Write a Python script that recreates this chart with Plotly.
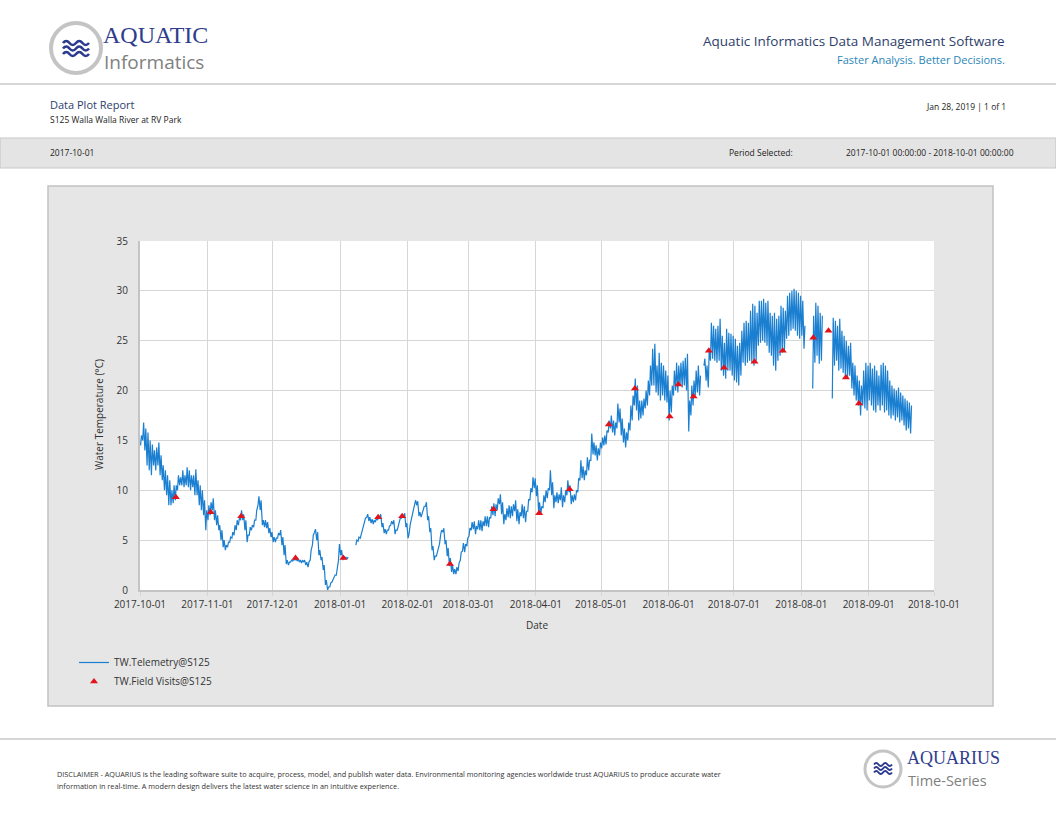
import plotly.graph_objects as go
import pandas as pd

# daily low / high water temperature (degC) at S125, one entry per day from 2017-10-01
# None = no telemetry that day
temp_low = [
    14.5, 15.0, 14.0, 12.5, 12.0, 11.5, 12.5, 12.0, 12.5, 11.5,
    11.0, 10.0, 9.5, 8.5, 8.5, 8.7, 9.0, 10.0, 10.5, 10.5,
    10.3, 10.5, 10.3, 10.0, 10.3, 9.5, 9.5, 8.5, 8.0, 7.5,
    6.0, 7.0, 7.5, 8.0, 7.0, 6.5, 6.0, 5.0, 4.3, 4.0,
    4.3, 4.8, 5.2, 5.5, 6.0, 6.5, 7.0, 7.0, 6.0, 4.8,
    5.5, 6.0, 6.3, 7.0, 8.5, 8.0, 6.5, 6.3, 6.2, 5.7,
    5.3, 4.8, 4.8, 5.2, 5.5, 4.5, 3.5, 2.6, 2.5, 2.8,
    2.9, 3.0, 2.9, 2.8, 2.7, 2.8, 2.5, 2.3, 3.0, 4.5,
    5.8, 5.0, 3.5, 3.0, 2.0, 0.5, 0.0, 0.3, 0.8, 1.2,
    1.5, 3.0, 3.5, 3.0, 3.1, 3.1, None, None, None, 4.5,
    4.9, 5.2, 6.0, 6.8, 7.3, 6.9, 6.7, 6.6, 6.8, 7.0,
    7.2, 6.3, 5.7, 5.6, 6.0, 6.5, 6.6, 5.6, 6.0, 6.8,
    7.2, 7.3, 6.3, 5.2, 6.6, 7.8, 8.7, 8.5, 7.4, 7.3,
    8.0, 8.4, 7.0, 5.8, 4.0, 3.0, 3.4, 4.2, 5.6, 5.8,
    4.6, 3.4, 2.4, 1.8, 1.6, 1.6, 1.9, 3.0, 3.9, 3.8,
    4.4, 5.4, 6.0, 6.1, 5.6, 6.1, 6.0, 5.9, 6.4, 6.4,
    6.3, 7.2, 7.5, 7.4, 8.0, 8.6, 7.6, 6.6, 7.0, 7.3,
    7.2, 7.4, 7.9, 6.9, 6.6, 7.4, 7.2, 6.8, 7.9, 9.0,
    9.8, 10.2, 9.4, 7.8, 7.6, 8.2, 8.8, 9.2, 10.0, 9.5,
    8.2, 8.8, 8.7, 9.0, 8.3, 8.8, 9.5, 9.8, 8.6, 8.8,
    9.0, 9.8, 11.0, 11.2, 11.0, 11.5, 12.0, 13.0, 13.6, 13.5,
    13.0, 13.5, 14.2, 14.5, 14.6, 15.8, 16.2, 15.8, 15.5, 16.2,
    16.8, 15.5, 14.8, 14.3, 15.0, 16.0, 17.0, 18.5, 18.0, 17.0,
    17.2, 17.5, 18.2, 18.5, 19.5, 20.5, 20.5, 19.8, 19.5, 19.0,
    19.5, 19.0, 18.8, 17.0, 17.8, 19.5, 20.0, 19.8, 20.5, 20.3,
    20.5, 20.0, 15.9, 17.5, 18.5, 19.5, 19.8, 19.5, None, 22.5,
    21.0, 20.3, 23.0, 23.2, 23.0, 22.8, 23.0, 22.0, 21.5, 21.2,
    22.0, 22.0, 21.5, 21.0, 20.8, 20.5, 21.5, 22.8, 22.5, 22.8,
    23.0, 22.8, 22.5, 23.0, 24.5, 24.8, 25.0, 24.8, 24.5, 23.8,
    23.5, 22.5, 22.0, 23.0, 23.5, 23.8, 24.0, 25.2, 25.5, 26.0,
    26.2, 26.0, 25.5, 25.2, 25.5, 24.2, None, None, None, 20.2,
    22.8, 23.5, 22.7, 23.0, None, None, None, None, 19.2, 22.5,
    23.0, 22.0, 22.2, 21.8, 21.5, 21.2, 21.5, 20.2, 19.5, 19.0,
    18.5, 17.5, 18.5, 18.2, 18.0, 19.0, 18.5, 18.0, 17.8, 18.5,
    18.0, 18.5, 17.8, 18.0, 17.5, 17.2, 17.5, 17.0, 17.3, 16.8,
    17.0, 16.5, 16.0, 16.2, 15.7,
]
temp_high = [
    15.5, 16.8, 16.2, 15.8, 15.0, 14.6, 14.0, 14.3, 14.8, 13.5,
    12.5, 12.0, 11.5, 11.0, 10.0, 10.5, 10.5, 11.5, 11.3, 12.0,
    11.5, 12.3, 12.0, 11.5, 11.5, 12.1, 11.0, 10.5, 10.0, 9.0,
    8.0, 8.5, 8.8, 9.2, 8.0, 7.5, 6.5, 6.0, 5.0, 4.5,
    4.8, 5.3, 5.8, 6.5, 7.0, 7.2, 8.0, 7.6, 7.0, 5.5,
    6.3, 6.5, 7.0, 8.0, 9.4, 9.0, 7.0, 7.0, 6.8, 6.2,
    5.8, 5.3, 5.2, 5.7, 6.0, 5.3, 4.5, 3.0, 2.8, 3.0,
    3.1, 3.2, 3.1, 3.0, 3.0, 3.0, 2.8, 2.8, 4.0, 5.5,
    6.1, 5.8, 4.0, 3.3, 2.5, 1.0, 0.3, 0.7, 1.0, 1.5,
    2.0, 4.6, 4.0, 3.3, 3.3, 3.3, None, None, None, 5.0,
    5.3, 5.6, 6.4, 7.2, 7.6, 7.3, 7.1, 7.0, 7.2, 7.4,
    7.6, 6.7, 6.1, 6.0, 6.4, 6.9, 7.0, 6.0, 6.4, 7.2,
    7.6, 7.7, 6.7, 5.6, 7.0, 8.2, 9.0, 8.9, 7.8, 7.7,
    8.4, 8.8, 7.4, 6.2, 4.4, 3.4, 3.8, 4.6, 6.0, 6.2,
    5.0, 4.2, 3.2, 2.5, 2.1, 2.3, 2.7, 3.8, 4.7, 4.6,
    5.2, 6.2, 6.8, 6.9, 6.4, 7.0, 7.0, 6.9, 7.4, 7.4,
    7.3, 8.4, 8.7, 8.6, 9.2, 9.6, 8.8, 7.6, 8.2, 8.5,
    8.4, 8.6, 9.0, 8.1, 7.8, 8.6, 8.4, 7.9, 9.1, 10.2,
    11.3, 11.2, 10.5, 8.8, 8.4, 9.5, 10.0, 10.2, 12.0, 10.8,
    9.5, 9.8, 9.6, 10.3, 9.5, 10.0, 11.0, 10.5, 9.5, 9.6,
    10.0, 11.2, 13.0, 12.4, 12.0, 13.3, 13.0, 15.7, 14.8, 14.5,
    14.2, 14.8, 15.3, 15.5, 16.0, 17.0, 17.5, 17.0, 16.8, 18.7,
    18.2, 17.2, 16.2, 15.8, 16.8, 18.5, 19.5, 21.2, 20.5, 19.0,
    19.0, 19.2, 20.0, 21.0, 22.5, 24.2, 24.7, 22.5, 23.8, 22.8,
    22.5, 22.0, 21.5, 20.0, 20.5, 22.0, 22.8, 22.5, 22.8, 23.0,
    23.3, 23.7, 19.0, 20.5, 21.0, 22.0, 22.5, 21.5, None, 23.2,
    22.5, 24.2, 26.8, 26.5, 26.2, 26.5, 27.2, 25.5, 24.8, 26.2,
    25.8, 25.7, 25.5, 25.2, 24.5, 24.8, 26.0, 26.8, 27.0, 26.8,
    28.0, 28.7, 28.5, 27.8, 29.0, 29.0, 29.2, 28.8, 29.0, 27.8,
    27.5, 27.8, 27.2, 27.5, 28.5, 28.3, 28.0, 29.5, 29.8, 30.0,
    30.2, 30.0, 29.8, 29.5, 29.0, 26.5, None, None, None, 27.5,
    28.8, 28.5, 27.8, 27.5, None, None, None, None, 27.3, 27.0,
    26.5, 27.2, 26.0, 25.5, 25.0, 24.5, 24.8, 22.8, 22.5, 21.5,
    21.0, 20.5, 22.0, 22.8, 22.5, 22.8, 22.2, 22.5, 22.0, 21.5,
    22.6, 22.8, 22.5, 22.0, 21.0, 20.5, 20.2, 20.0, 20.3, 19.8,
    19.5, 19.2, 19.0, 18.8, 18.5,
]

visit_dates = [
    "2017-10-17", "2017-11-02", "2017-11-16", "2017-12-11", "2018-01-02",
    "2018-01-18", "2018-01-29", "2018-02-20", "2018-03-12", "2018-04-02",
    "2018-04-16", "2018-05-04", "2018-05-16", "2018-06-01", "2018-06-05",
    "2018-06-12", "2018-06-19", "2018-06-26", "2018-07-10", "2018-07-23",
    "2018-08-06", "2018-08-13", "2018-08-21", "2018-08-27",
]
visit_values = [
    9.3, 7.8, 7.4, 3.2, 3.2,
    7.3, 7.4, 2.6, 8.1, 7.7,
    10.1, 16.6, 20.2, 17.4, 20.6,
    19.4, 24.0, 22.3, 22.9, 24.0,
    25.3, 26.0, 21.3, 18.7,
]

W, H = 1056, 816


def px(x):
    return x / W


def py(y):
    return 1 - y / H


# low around 6am, high around 4pm -> diurnal zigzag
days = pd.date_range("2017-10-01", periods=len(temp_low), freq="D")
times, temps = [], []
for d, lo, hi in zip(days, temp_low, temp_high):
    times += [d + pd.Timedelta(hours=6), d + pd.Timedelta(hours=16)]
    temps += [lo, hi]

fig = go.Figure()
fig.add_trace(go.Scatter(x=times, y=temps, mode="lines", name="TW.Telemetry@S125",
                         line=dict(color="#1a7fd0", width=1.2)))
fig.add_trace(go.Scatter(x=pd.to_datetime(visit_dates) + pd.Timedelta(hours=12), y=visit_values,
                         mode="markers", name="TW.Field Visits@S125",
                         marker=dict(symbol="triangle-up", color="#e3121b", size=7)))

GRID = "#d6d6d6"
fig.update_layout(
    width=W, height=H,
    margin=dict(l=0, r=0, t=0, b=0, autoexpand=False),
    paper_bgcolor="white", plot_bgcolor="white",
    font=dict(family="Open Sans", color="#333333", size=10),
    showlegend=True,
    legend=dict(x=px(74), y=py(648), xanchor="left", yanchor="top",
                bgcolor="rgba(0,0,0,0)", font=dict(size=10, color="#333333"),
                tracegroupgap=0, itemwidth=30),
    xaxis=dict(domain=[px(140), px(934)], range=["2017-10-01", "2018-10-01"],
               tick0="2017-10-01", dtick="M1", tickformat="%Y-%m-%d",
               showgrid=True, gridcolor=GRID, gridwidth=1, automargin=False,
               showline=True, linecolor="#c4c4c4", linewidth=2,
               ticks="outside", ticklen=4, tickcolor=GRID,
               tickfont=dict(size=10, color="#333333"), zeroline=False),
    yaxis=dict(domain=[py(590), py(241)], range=[0, 35], dtick=5,
               showgrid=True, gridcolor=GRID, gridwidth=1, automargin=False,
               showline=True, linecolor="#c4c4c4", linewidth=2,
               ticks="", ticklabelstandoff=8, zeroline=False,
               tickfont=dict(size=10, color="#333333")),
)


def wave(x0, x1, y, amp, n=4):
    # little wavy stroke for the logo, in paper coords
    step = (x1 - x0) / n
    d = f"M {px(x0)},{py(y)} Q {px(x0 + step / 2)},{py(y - amp)} {px(x0 + step)},{py(y)}"
    for i in range(2, n + 1):
        d += f" T {px(x0 + i * step)},{py(y)}"
    return d


shapes = [
    # chart container and white plotting area
    dict(type="rect", xref="paper", yref="paper", x0=px(48), x1=px(993), y0=py(706), y1=py(186),
         fillcolor="#e6e6e6", line=dict(color="#c2c2c2", width=1.5), layer="below"),
    dict(type="rect", xref="x domain", yref="y domain", x0=0, x1=1, y0=0, y1=1,
         fillcolor="white", line=dict(width=0), layer="below"),
    # page header / footer rules
    dict(type="line", xref="paper", yref="paper", x0=0, x1=1, y0=py(84), y1=py(84),
         line=dict(color="#c8c8c8", width=1.5)),
    dict(type="rect", xref="paper", yref="paper", x0=0, x1=1, y0=py(168), y1=py(138),
         fillcolor="#e4e4e4", line=dict(color="#c8c8c8", width=1.2), layer="below"),
    dict(type="line", xref="paper", yref="paper", x0=0, x1=1, y0=py(739), y1=py(739),
         line=dict(color="#c8c8c8", width=1.5)),
    # logo rings
    dict(type="circle", xref="paper", yref="paper", x0=px(51), x1=px(101), y0=py(73), y1=py(23),
         fillcolor="white", line=dict(color="#c4c4c4", width=4)),
    dict(type="circle", xref="paper", yref="paper", x0=px(865), x1=px(901), y0=py(787), y1=py(751),
         fillcolor="white", line=dict(color="#c4c4c4", width=3)),
]
for yy in (43, 48.5, 54):
    shapes.append(dict(type="path", xref="paper", yref="paper", path=wave(63, 89, yy, 4),
                       line=dict(color="#2b3a8f", width=2.6)))
for yy in (764.5, 768.5, 772.5):
    shapes.append(dict(type="path", xref="paper", yref="paper", path=wave(874, 892, yy, 3),
                       line=dict(color="#2b3a8f", width=1.9)))
fig.update_layout(shapes=shapes)


def txt(x, y, s, size, color="#333333", anchor="left", family="Open Sans", **kw):
    fig.add_annotation(x=px(x), y=py(y), xref="paper", yref="paper", text=s, showarrow=False,
                       xanchor=anchor, yanchor="middle", borderpad=0,
                       font=dict(size=size, color=color, family=family), **kw)


# header
txt(102, 35, "AQUATIC", 24, "#2e3d8c", family="Liberation Serif")
txt(103, 62, "Informatics", 19, "#808080")
txt(1006, 41, "Aquatic Informatics Data Management Software", 13.5, "#2d3e6b", anchor="right")
txt(1006, 60, "Faster Analysis. Better Decisions.", 11, "#2a86b8", anchor="right")
txt(49, 104, "Data Plot Report", 11, "#2d3e6b")
txt(49, 119, "S125 Walla Walla River at RV Park", 8.5, "#222222")
txt(1007, 107, "Jan 28, 2019 | 1 of 1", 8.5, "#222222", anchor="right")
txt(49, 152, "2017-10-01", 8.5, "#222222")
txt(728, 152, "Period Selected:", 8.5, "#222222")
txt(1015, 152, "2017-10-01 00:00:00 - 2018-10-01 00:00:00", 8.5, "#222222", anchor="right")

# axis titles
txt(537, 625, "Date", 10, "#333333", anchor="center")
txt(99, 415, "Water Temperature (°C)", 10, "#333333", anchor="center", textangle=-90)

# footer
txt(56, 774, "DISCLAIMER - AQUARIUS is the leading software suite to acquire, process, model, and publish water data. "
             "Environmental monitoring agencies worldwide trust AQUARIUS to produce accurate water", 7.3, "#333333")
txt(56, 786, "information in real-time. A modern design delivers the latest water science in an intuitive experience.",
    7.3, "#333333")
txt(906, 758, "AQUARIUS", 18, "#2e3d8c", family="Liberation Serif")
txt(907, 780, "Time-Series", 14.5, "#808080")

# page body has an 8px default margin, drop it so the page lines up with the window
fig.write_html("out.html", config={"displayModeBar": False},
               post_script="document.body.style.margin='0px';")
